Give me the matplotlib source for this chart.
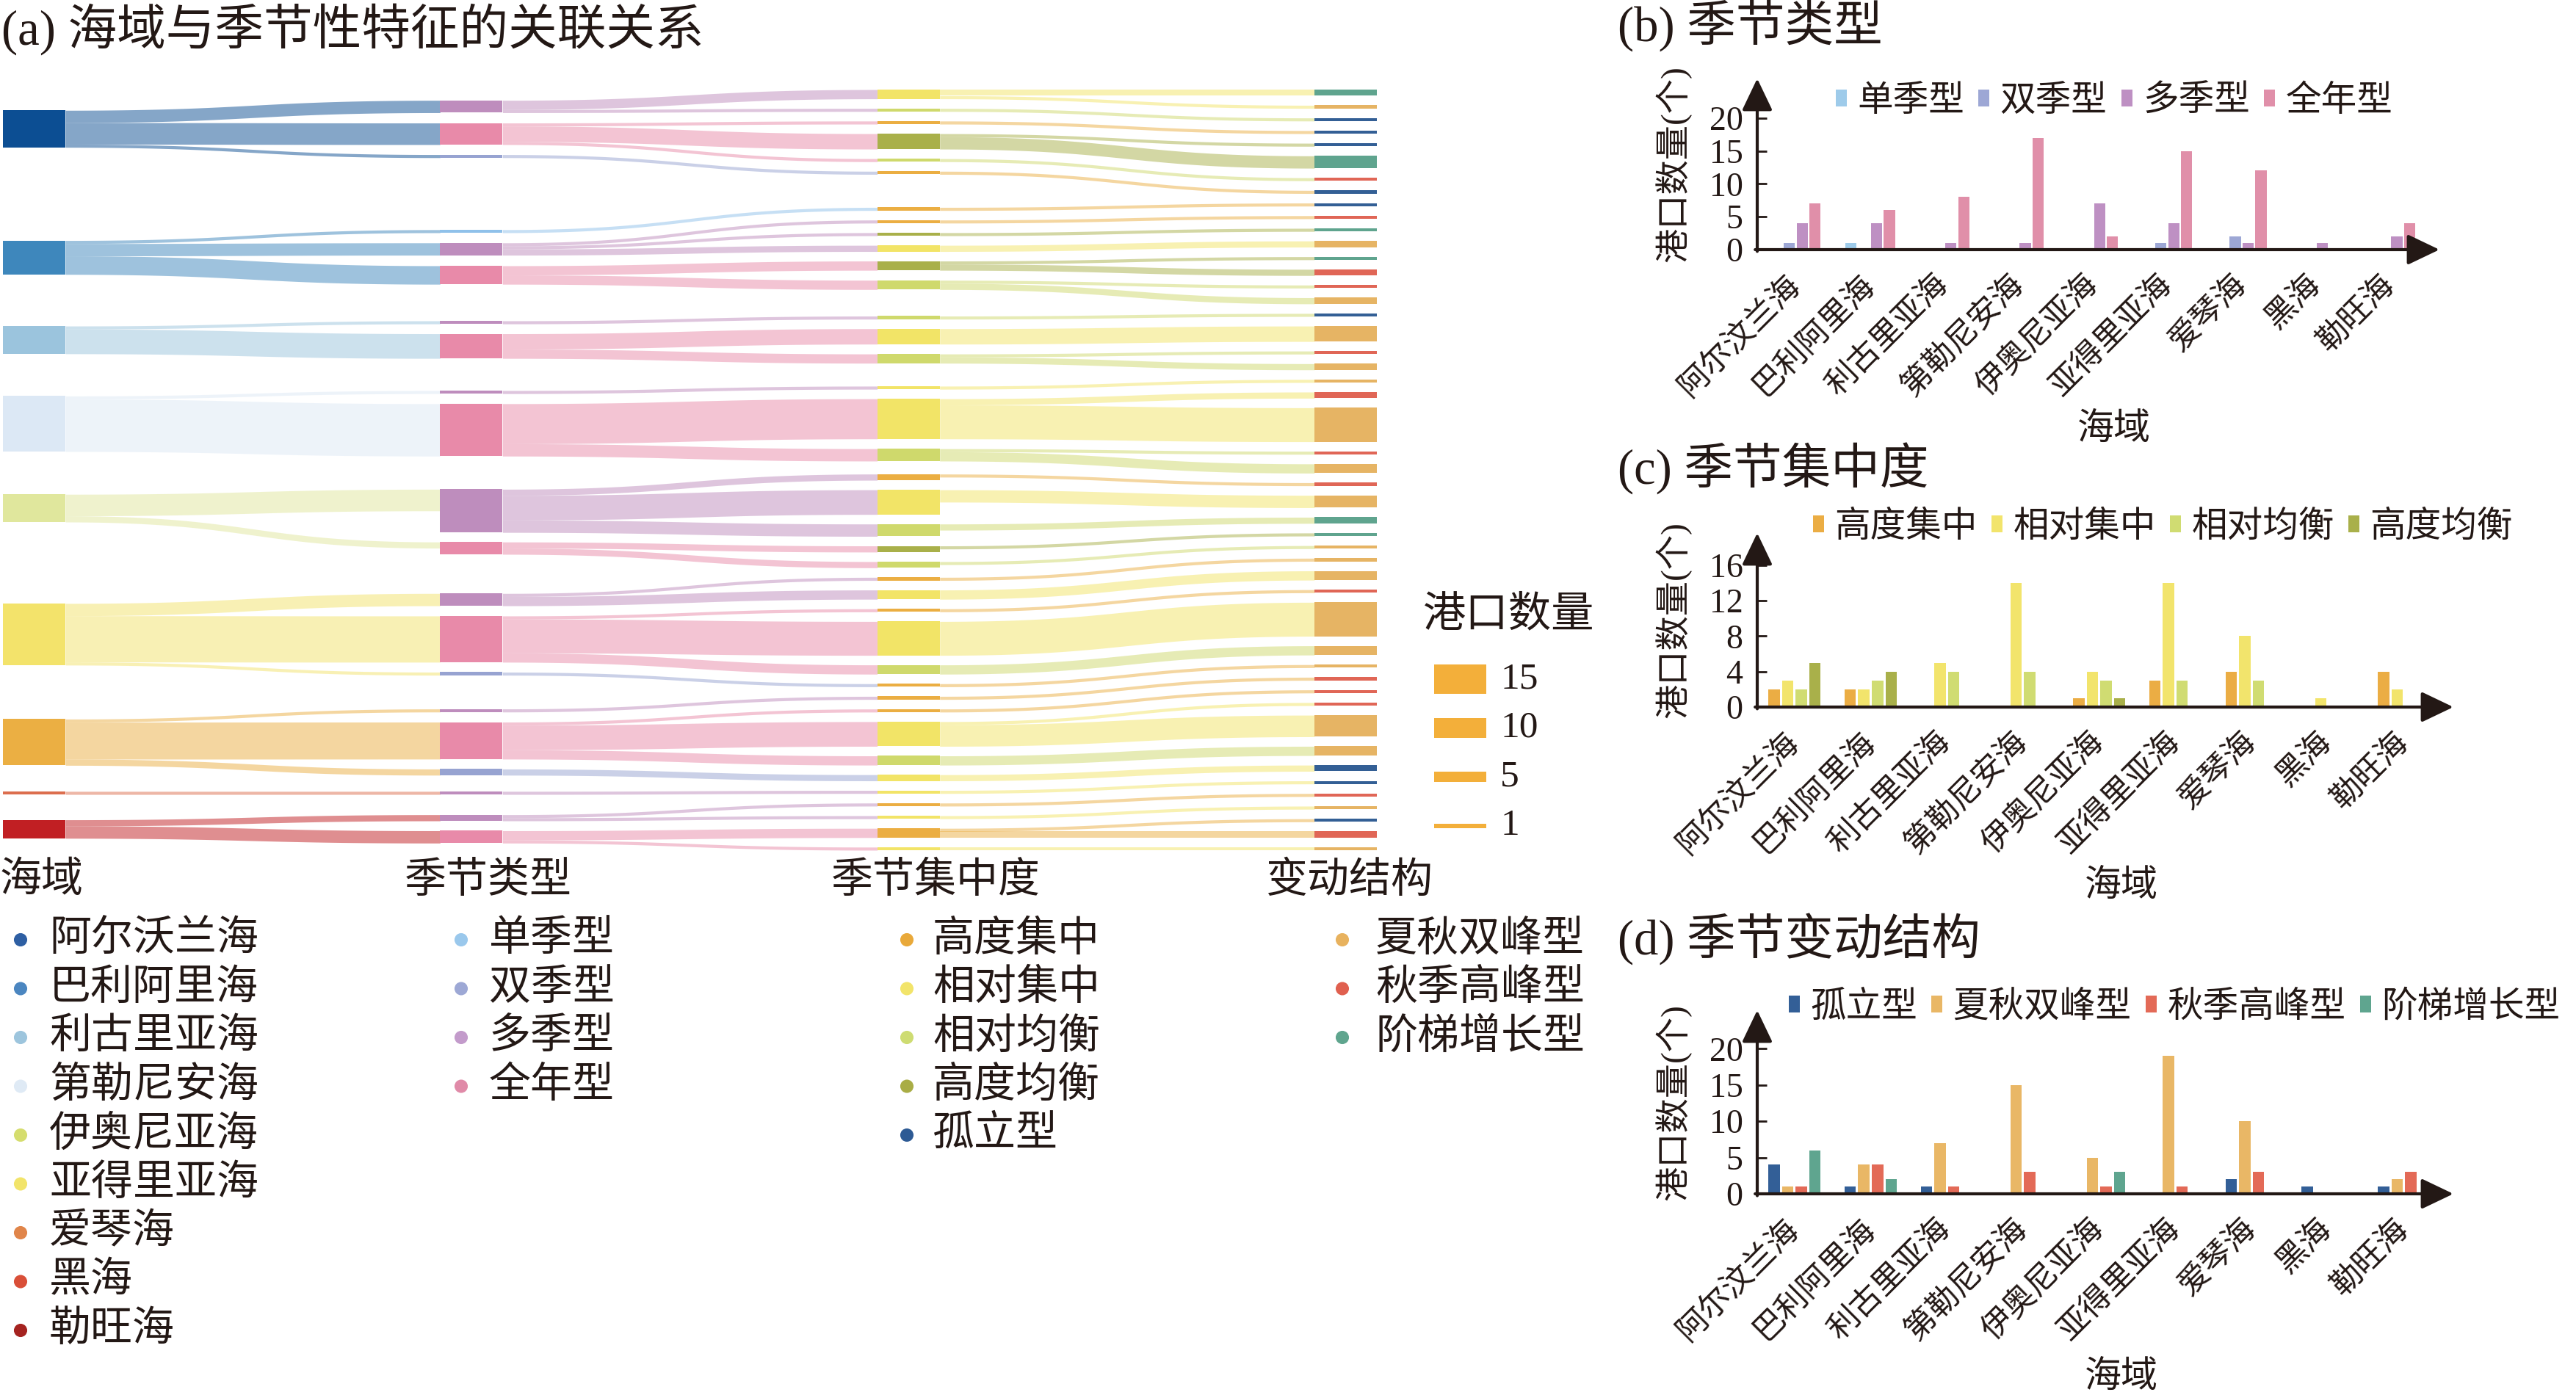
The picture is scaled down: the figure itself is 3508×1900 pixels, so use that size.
import numpy as np
import matplotlib.pyplot as plt
from matplotlib.patches import Patch

plt.rcParams['font.family'] = ['Liberation Serif', 'Noto Sans CJK SC']
TXT = '#231815'
plt.rcParams['text.color'] = TXT
plt.rcParams['xtick.color'] = TXT
plt.rcParams['ytick.color'] = TXT
plt.rcParams['axes.labelcolor'] = TXT

W, H = 3508, 1900


def fx(px):
    return px / W


def fy(py):
    return 1 - py / H


# ---------------- data ----------------
seas = ['阿尔沃兰海', '巴利阿里海', '利古里亚海', '第勒尼安海', '伊奥尼亚海',
        '亚得里亚海', '爱琴海', '黑海', '勒旺海']
seas_bar = ['阿尔汶兰海', '巴利阿里海', '利古里亚海', '第勒尼安海', '伊奥尼亚海',
            '亚得里亚海', '爱琴海', '黑海', '勒旺海']
season_types = ['单季型', '双季型', '多季型', '全年型']
conc_types = ['高度集中', '相对集中', '相对均衡', '高度均衡', '孤立型']
struct_types = ['孤立型', '夏秋双峰型', '秋季高峰型', '阶梯增长型']

# (b) season type counts per sea
type_single = [0, 1, 0, 0, 0, 0, 0, 0, 0]
type_double = [1, 0, 0, 0, 0, 1, 2, 0, 0]
type_multi = [4, 4, 1, 1, 7, 4, 1, 1, 2]
type_full = [7, 6, 8, 17, 2, 15, 12, 0, 4]
# (c) concentration counts per sea
conc_high = [2, 2, 0, 0, 1, 3, 4, 0, 4]
conc_rel = [3, 2, 5, 14, 4, 14, 8, 1, 2]
conc_bal = [2, 3, 4, 4, 3, 3, 3, 0, 0]
conc_hbal = [5, 4, 0, 0, 1, 0, 0, 0, 0]
# (d) variation structure counts per sea
st_iso = [4, 1, 1, 0, 0, 0, 2, 1, 1]
st_ss = [1, 4, 7, 15, 5, 19, 10, 0, 2]
st_aut = [1, 4, 1, 3, 1, 1, 3, 0, 3]
st_step = [6, 2, 0, 0, 3, 0, 0, 0, 0]

# (a) sankey links, top to bottom
sea_type_links = [
    ('阿尔沃兰海', '多季型', 4), ('阿尔沃兰海', '全年型', 7), ('阿尔沃兰海', '双季型', 1),
    ('巴利阿里海', '单季型', 1), ('巴利阿里海', '多季型', 4), ('巴利阿里海', '全年型', 6),
    ('利古里亚海', '多季型', 1), ('利古里亚海', '全年型', 8),
    ('第勒尼安海', '多季型', 1), ('第勒尼安海', '全年型', 17),
    ('伊奥尼亚海', '多季型', 7), ('伊奥尼亚海', '全年型', 2),
    ('亚得里亚海', '多季型', 4), ('亚得里亚海', '全年型', 15), ('亚得里亚海', '双季型', 1),
    ('爱琴海', '多季型', 1), ('爱琴海', '全年型', 12), ('爱琴海', '双季型', 2),
    ('黑海', '多季型', 1),
    ('勒旺海', '多季型', 2), ('勒旺海', '全年型', 4),
]
type_conc_links = [
    ('阿尔沃兰海', '多季型', '相对集中', 3), ('阿尔沃兰海', '多季型', '相对均衡', 1),
    ('阿尔沃兰海', '全年型', '高度集中', 1), ('阿尔沃兰海', '全年型', '高度均衡', 5),
    ('阿尔沃兰海', '全年型', '相对均衡', 1), ('阿尔沃兰海', '双季型', '高度集中', 1),
    ('巴利阿里海', '单季型', '高度集中', 1),
    ('巴利阿里海', '多季型', '高度集中', 1), ('巴利阿里海', '多季型', '高度均衡', 1),
    ('巴利阿里海', '多季型', '相对集中', 2),
    ('巴利阿里海', '全年型', '高度均衡', 3), ('巴利阿里海', '全年型', '相对均衡', 3),
    ('利古里亚海', '多季型', '相对均衡', 1),
    ('利古里亚海', '全年型', '相对集中', 5), ('利古里亚海', '全年型', '相对均衡', 3),
    ('第勒尼安海', '多季型', '相对集中', 1),
    ('第勒尼安海', '全年型', '相对集中', 13), ('第勒尼安海', '全年型', '相对均衡', 4),
    ('伊奥尼亚海', '多季型', '高度集中', 2), ('伊奥尼亚海', '多季型', '相对集中', 8),
    ('伊奥尼亚海', '多季型', '相对均衡', 4),
    ('伊奥尼亚海', '全年型', '高度均衡', 2), ('伊奥尼亚海', '全年型', '相对均衡', 2),
    ('亚得里亚海', '多季型', '高度集中', 1), ('亚得里亚海', '多季型', '相对集中', 3),
    ('亚得里亚海', '全年型', '高度集中', 1), ('亚得里亚海', '全年型', '相对集中', 11),
    ('亚得里亚海', '全年型', '相对均衡', 3), ('亚得里亚海', '双季型', '高度集中', 1),
    ('爱琴海', '多季型', '高度集中', 1),
    ('爱琴海', '全年型', '高度集中', 1), ('爱琴海', '全年型', '相对集中', 8),
    ('爱琴海', '全年型', '相对均衡', 3), ('爱琴海', '双季型', '相对集中', 2),
    ('黑海', '多季型', '相对集中', 1),
    ('勒旺海', '多季型', '高度集中', 1), ('勒旺海', '多季型', '相对集中', 1),
    ('勒旺海', '全年型', '高度集中', 3), ('勒旺海', '全年型', '相对集中', 1),
]
conc_struct_links = [
    ('阿尔沃兰海', '多季型', '相对集中', '阶梯增长型', 2),
    ('阿尔沃兰海', '多季型', '相对集中', '夏秋双峰型', 1),
    ('阿尔沃兰海', '多季型', '相对均衡', '孤立型', 1),
    ('阿尔沃兰海', '全年型', '高度集中', '孤立型', 1),
    ('阿尔沃兰海', '全年型', '高度均衡', '孤立型', 1),
    ('阿尔沃兰海', '全年型', '高度均衡', '阶梯增长型', 4),
    ('阿尔沃兰海', '全年型', '相对均衡', '秋季高峰型', 1),
    ('阿尔沃兰海', '双季型', '高度集中', '孤立型', 1),
    ('巴利阿里海', '单季型', '高度集中', '孤立型', 1),
    ('巴利阿里海', '多季型', '高度集中', '秋季高峰型', 1),
    ('巴利阿里海', '多季型', '高度均衡', '阶梯增长型', 1),
    ('巴利阿里海', '多季型', '相对集中', '夏秋双峰型', 2),
    ('巴利阿里海', '全年型', '高度均衡', '阶梯增长型', 1),
    ('巴利阿里海', '全年型', '高度均衡', '秋季高峰型', 2),
    ('巴利阿里海', '全年型', '相对均衡', '秋季高峰型', 1),
    ('巴利阿里海', '全年型', '相对均衡', '夏秋双峰型', 2),
    ('利古里亚海', '多季型', '相对均衡', '孤立型', 1),
    ('利古里亚海', '全年型', '相对集中', '夏秋双峰型', 5),
    ('利古里亚海', '全年型', '相对均衡', '秋季高峰型', 1),
    ('利古里亚海', '全年型', '相对均衡', '夏秋双峰型', 2),
    ('第勒尼安海', '多季型', '相对集中', '夏秋双峰型', 1),
    ('第勒尼安海', '全年型', '相对集中', '秋季高峰型', 2),
    ('第勒尼安海', '全年型', '相对集中', '夏秋双峰型', 11),
    ('第勒尼安海', '全年型', '相对均衡', '秋季高峰型', 1),
    ('第勒尼安海', '全年型', '相对均衡', '夏秋双峰型', 3),
    ('伊奥尼亚海', '多季型', '高度集中', '秋季高峰型', 1),
    ('伊奥尼亚海', '多季型', '相对集中', '夏秋双峰型', 4),
    ('伊奥尼亚海', '多季型', '相对均衡', '阶梯增长型', 2),
    ('伊奥尼亚海', '全年型', '高度均衡', '阶梯增长型', 1),
    ('伊奥尼亚海', '全年型', '相对均衡', '夏秋双峰型', 1),
    ('亚得里亚海', '多季型', '高度集中', '夏秋双峰型', 1),
    ('亚得里亚海', '多季型', '相对集中', '夏秋双峰型', 3),
    ('亚得里亚海', '全年型', '高度集中', '秋季高峰型', 1),
    ('亚得里亚海', '全年型', '相对集中', '夏秋双峰型', 11),
    ('亚得里亚海', '全年型', '相对均衡', '夏秋双峰型', 3),
    ('亚得里亚海', '双季型', '高度集中', '夏秋双峰型', 1),
    ('爱琴海', '多季型', '高度集中', '秋季高峰型', 1),
    ('爱琴海', '全年型', '高度集中', '秋季高峰型', 1),
    ('爱琴海', '全年型', '相对集中', '秋季高峰型', 1),
    ('爱琴海', '全年型', '相对集中', '夏秋双峰型', 7),
    ('爱琴海', '全年型', '相对均衡', '夏秋双峰型', 3),
    ('爱琴海', '双季型', '相对集中', '孤立型', 2),
    ('黑海', '多季型', '相对集中', '孤立型', 1),
    ('勒旺海', '多季型', '高度集中', '秋季高峰型', 1),
    ('勒旺海', '多季型', '相对集中', '夏秋双峰型', 1),
    ('勒旺海', '全年型', '高度集中', '孤立型', 1),
    ('勒旺海', '全年型', '高度集中', '秋季高峰型', 2),
    ('勒旺海', '全年型', '相对集中', '夏秋双峰型', 1),
]
size_legend_vals = [15, 10, 5, 1]

# colours
sea_node_colors = ['#0c4e93', '#3e87bc', '#9bc4dd', '#dce8f5', '#e0e79d',
                   '#f3e36b', '#ebaf43', '#dc6e4e', '#c11f23']
sea_dot_colors = ['#2e5fa3', '#4b86c0', '#9dc5dd', '#dfeaf5', '#d5dd6e',
                  '#f2e46a', '#e0854a', '#d94f38', '#a52320']
type_colors = {'单季型': '#8fc1ea', '双季型': '#97a3d1', '多季型': '#be8dbd', '全年型': '#e88aa9'}
conc_colors = {'高度集中': '#ebae42', '相对集中': '#f2e467', '相对均衡': '#cfd96c',
               '高度均衡': '#a9b04a', '孤立型': '#2d5a94'}
struct_colors = {'孤立型': '#335f95', '夏秋双峰型': '#e6b464', '秋季高峰型': '#e06656',
                 '阶梯增长型': '#5fa48e'}
bar_b_colors = ['#9ecbea', '#9da7d5', '#be90c3', '#e08fa9']
bar_c_colors = ['#ebad44', '#f2e46c', '#d0dc72', '#a9b04a']
bar_d_colors = ['#335f97', '#e9b766', '#e36a57', '#5fa58f']

fig = plt.figure(figsize=(W / 100, H / 100), dpi=100)

# ---------------- sankey layout (d3-sankey style) ----------------
GAP = 3.1
NW = 0.143
cols = [[], [], [], []]
nodes = {}
links = []


def add(key, col):
    if key not in nodes:
        nodes[key] = dict(col=col, src=[], tgt=[])
        cols[col].append(key)


for sea, t, v in sea_type_links:
    add((sea,), 0)
    add((sea, t), 1)
    links.append(((sea,), (sea, t), v))
for sea, t, c, v in type_conc_links:
    add((sea, t, c), 2)
    links.append(((sea, t), (sea, t, c), v))
for sea, t, c, s, v in conc_struct_links:
    add((sea, t, c, s), 3)
    links.append(((sea, t, c), (sea, t, c, s), v))
for lk in links:
    nodes[lk[0]]['src'].append(lk)
    nodes[lk[1]]['tgt'].append(lk)
for n in nodes.values():
    n['v'] = max(sum(l[2] for l in n['src']), sum(l[2] for l in n['tgt']))

HT = max(sum(nodes[k]['v'] for k in c) + (len(c) - 1) * GAP for c in cols)

for c in cols:
    y = 0
    for k in c:
        nodes[k]['y0'] = y
        y += nodes[k]['v'] + GAP
    extra = (HT - y + GAP) / (len(c) + 1)
    for i, k in enumerate(c):
        nodes[k]['y0'] += extra * (i + 1)


def y1(k):
    return nodes[k]['y0'] + nodes[k]['v']


def collide_down(c, y, i, a):
    for k in c[i:]:
        dy = (y - nodes[k]['y0']) * a
        if dy > 1e-6:
            nodes[k]['y0'] += dy
        y = y1(k) + GAP


def collide_up(c, y, i, a):
    for k in reversed(c[:i + 1]):
        dy = (y1(k) - y) * a
        if dy > 1e-6:
            nodes[k]['y0'] -= dy
        y = nodes[k]['y0'] - GAP


def resolve(c, a):
    i = len(c) >> 1
    s = c[i]
    collide_up(c, nodes[s]['y0'] - GAP, i - 1, a)
    collide_down(c, y1(s) + GAP, i + 1, a)
    collide_up(c, HT, len(c) - 1, a)
    collide_down(c, 0, 0, a)


def src_offset(s, t):
    off = 0
    for l in nodes[s]['src']:
        if l[1] == t:
            break
        off += l[2]
    return off


def target_top(s, t):
    n = nodes[s]
    y = n['y0'] - (len(n['src']) - 1) * GAP / 2
    for l in n['src']:
        if l[1] == t:
            break
        y += l[2] + GAP
    return y


def source_top(s, t):
    return nodes[t]['y0'] - src_offset(s, t)


ITER = 6
for it in range(ITER):
    alpha = 0.99 ** it
    beta = max(1 - alpha, (it + 1) / ITER)
    for ci in (2, 1, 0):
        for k in cols[ci]:
            ls = nodes[k]['src']
            w = sum(l[2] for l in ls)
            yy = sum(source_top(k, l[1]) * l[2] for l in ls) / w
            nodes[k]['y0'] += (yy - nodes[k]['y0']) * alpha
        resolve(cols[ci], beta)
    for ci in (1, 2, 3):
        for k in cols[ci]:
            ls = nodes[k]['tgt']
            w = sum(l[2] for l in ls)
            yy = sum(target_top(l[0], k) * l[2] for l in ls) / w
            nodes[k]['y0'] += (yy - nodes[k]['y0']) * alpha
        resolve(cols[ci], beta)


def node_color(k):
    if len(k) == 1:
        return sea_node_colors[seas.index(k[0])]
    if len(k) == 2:
        return type_colors[k[1]]
    if len(k) == 3:
        return conc_colors[k[2]]
    return struct_colors[k[3]]


ax = fig.add_axes([fx(4), fy(1158), fx(1875) - fx(4), fy(122) - fy(1158)])
ax.set_xlim(0, 3 + NW)
ax.set_ylim(HT, 0)
ax.axis('off')

t = np.linspace(0, 1, 80)
b0 = (1 - t) ** 3 + 3 * (1 - t) ** 2 * t
b1 = 1 - b0
for s, d, v in links:
    x0 = nodes[s]['col'] + NW
    x1 = nodes[d]['col']
    xm = (x0 + x1) / 2
    bx = x0 * (1 - t) ** 3 + 3 * xm * (1 - t) ** 2 * t + 3 * xm * (1 - t) * t ** 2 + x1 * t ** 3
    ys = nodes[s]['y0'] + src_offset(s, d)
    yt = nodes[d]['y0']
    top = ys * b0 + yt * b1
    ax.fill_between(bx, top, top + v, color=node_color(s), alpha=0.5, lw=0)
for k, n in nodes.items():
    ax.bar(n['col'], n['v'], bottom=n['y0'], width=NW, align='edge',
           color=node_color(k), lw=0)

# ---------------- overlay: titles, headers, legends ----------------
ov = fig.add_axes([0, 0, 1, 1])
ov.set_xlim(0, W)
ov.set_ylim(H, 0)
ov.axis('off')

ov.text(2, 40, '(a) 海域与季节性特征的关联关系', fontsize=48, va='center')
ov.text(2203, 35, '(b) 季节类型', fontsize=48, va='center')
ov.text(2203, 638, '(c) 季节集中度', fontsize=48, va='center')
ov.text(2203, 1279, '(d) 季节变动结构', fontsize=48, va='center')

heads = ['海域', '季节类型', '季节集中度', '变动结构']
head_x = [0, 551, 1132, 1723]
for hx, lab in zip(head_x, heads):
    ov.text(hx, 1200, lab, fontsize=41, va='center')

groups = [
    (seas, sea_dot_colors, 28, 67),
    (season_types, ['#9ac8ec', '#9da8d5', '#c39bcb', '#e08aa8'], 628, 666),
    (conc_types, ['#e9a93a', '#f2e46a', '#cedc72', '#a9ad45', '#2d5a94'], 1235, 1270),
    (struct_types[1:], ['#e8b25e', '#e0604f', '#5fa58e'], 1828, 1873),
]
for labels, colors, dx, tx in groups:
    ys = 1280 + 66.5 * np.arange(len(labels))
    ov.scatter(np.full(len(labels), dx), ys, s=170, color=colors, lw=0)
    for yy, lab in zip(ys, labels):
        ov.text(tx, yy, lab, fontsize=41, va='center')

ov.text(1938, 838, '港口数量', fontsize=42, va='center')
size_y = 925 + 66.5 * np.arange(len(size_legend_vals))
ov.barh(size_y, 71, height=np.maximum(np.array(size_legend_vals) * 2.7, 6),
        left=1953, color='#f3af3a', lw=0)
for yy, v in zip(size_y, size_legend_vals):
    ov.text(2043, yy, str(v), fontsize=37, va='center')


# ---------------- bar panels ----------------
def bar_panel(top_px, bottom_px, right_px, ymax, yticks, xlim, step, series,
              colors, labels, leg_x, leg_y, xlab_y):
    rect = [fx(2393), fy(bottom_px), (right_px - 2393) / W, (bottom_px - top_px) / H]
    a = fig.add_axes(rect)
    x = np.arange(len(seas_bar))
    for i, (vals, c, lab) in enumerate(zip(series, colors, labels)):
        a.bar(x + (i - 1.5) * step, vals, width=0.15, color=c, lw=0, label=lab)
    a.set_xlim(*xlim)
    a.set_ylim(0, ymax)
    a.set_yticks(yticks)
    a.set_xticks(x)
    a.set_xticklabels(seas_bar, rotation=45, ha='right', va='center',
                      rotation_mode='anchor', fontsize=31)
    for sp in a.spines.values():
        sp.set_visible(False)
    a.tick_params(axis='x', length=0, pad=30)
    a.tick_params(axis='y', direction='in', length=9, width=2, labelsize=33, pad=14)
    arr = dict(arrowstyle='-|>,head_length=0.9,head_width=0.43', color=TXT, lw=3,
               mutation_scale=30, shrinkA=0, shrinkB=0)
    a.annotate('', xy=(0, 1), xytext=(0, -0.01), xycoords='axes fraction', arrowprops=arr)
    a.annotate('', xy=(1, 0), xytext=(-0.003, 0), xycoords='axes fraction', arrowprops=arr)
    a.set_ylabel('港口数量(个)', fontsize=34, va='center')
    a.yaxis.set_label_coords((2279 - 2393) / (right_px - 2393), 0.5)
    a.set_xlabel('海域', fontsize=36, va='center')
    a.xaxis.set_label_coords(0.523, (bottom_px - xlab_y) / (bottom_px - top_px))
    handles = [Patch(color=c, lw=0) for c in colors]
    a.legend(handles, labels, ncol=4, loc='center left', frameon=False, fontsize=35,
             bbox_to_anchor=(fx(leg_x), fy(leg_y)), bbox_transform=fig.transFigure,
             handlelength=0.3, handleheight=0.35, handletextpad=0.3, columnspacing=0.4,
             borderpad=0, borderaxespad=0)
    return a


bar_panel(107, 340, 3322, 26, [0, 5, 10, 15, 20], (-0.52, 8.66), 0.173,
          [type_single, type_double, type_multi, type_full], bar_b_colors,
          season_types, 2500, 138, 586)
bar_panel(726, 963, 3341, 19.6, [0, 4, 8, 12, 16], (-0.49, 8.65), 0.179,
          [conc_high, conc_rel, conc_bal, conc_hbal], bar_c_colors,
          conc_types[:4], 2469, 718, 1208)
bar_panel(1376, 1626, 3341, 25.3, [0, 5, 10, 15, 20], (-0.49, 8.65), 0.179,
          [st_iso, st_ss, st_aut, st_step], bar_d_colors,
          struct_types, 2436, 1372, 1877)

fig.savefig('out.png', dpi=100, facecolor='white')
